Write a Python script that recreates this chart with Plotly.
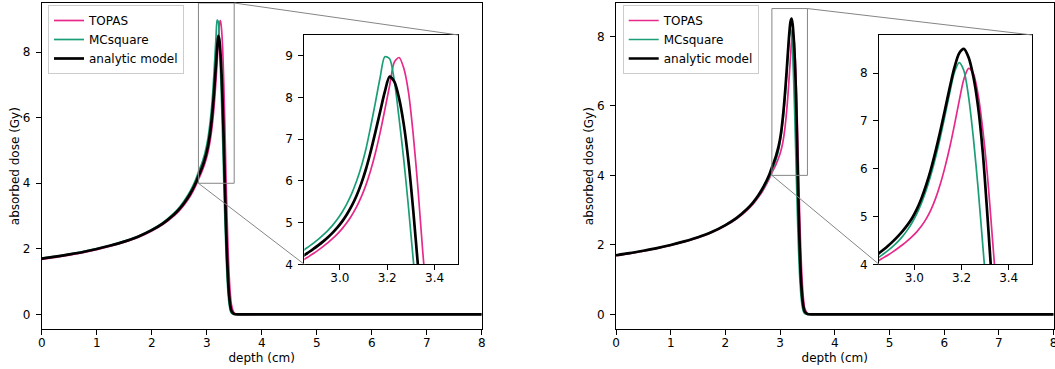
import plotly.graph_objects as go

# ---------------- data ----------------
depth = [0.0, 0.25, 0.5, 0.75, 1.0, 1.25, 1.5, 1.75, 2.0, 2.2, 2.4, 2.5, 2.6, 2.7, 2.8,
         2.85, 2.87, 2.89, 2.91, 2.93, 2.95, 2.97, 2.99, 3.01, 3.03, 3.05, 3.07, 3.09,
         3.11, 3.13, 3.15, 3.17, 3.19, 3.21, 3.23, 3.25, 3.27, 3.29, 3.31, 3.33, 3.35,
         3.37, 3.39, 3.41, 3.43, 3.45,
         3.5, 3.6, 4.0, 5.0, 6.0, 7.0, 8.0]

# left panel
topas_left = [1.68, 1.74, 1.81, 1.885, 1.975, 2.08, 2.20, 2.345, 2.545, 2.74, 3.00, 3.16, 3.36, 3.60, 3.92,
              4.12, 4.19, 4.265, 4.345, 4.43, 4.52, 4.62, 4.73, 4.855, 5.00, 5.17, 5.37, 5.61,
              5.90, 6.25, 6.67, 7.16, 7.71, 8.28, 8.85, 8.96, 8.70, 8.12, 7.10, 5.80, 4.30,
              3.00, 1.95, 1.15, 0.62, 0.30,
              0.04, 0.0, 0.0, 0.0, 0.0, 0.0, 0.0]
mcsquare_left = [1.71, 1.77, 1.84, 1.915, 2.005, 2.11, 2.235, 2.385, 2.59, 2.80, 3.08, 3.26, 3.49, 3.76, 4.11,
                 4.35, 4.43, 4.515, 4.605, 4.705, 4.815, 4.94, 5.085, 5.255, 5.455, 5.695, 5.985, 6.335,
                 6.76, 7.30, 7.88, 8.48, 8.98, 8.93, 8.40, 7.50, 6.50, 5.35, 4.10, 2.95, 1.95,
                 1.15, 0.60, 0.28, 0.11, 0.04,
                 0.01, 0.0, 0.0, 0.0, 0.0, 0.0, 0.0]
analytic_left = [1.70, 1.76, 1.83, 1.905, 1.995, 2.10, 2.22, 2.37, 2.57, 2.77, 3.04, 3.21, 3.42, 3.68, 4.01,
                 4.22, 4.295, 4.375, 4.46, 4.55, 4.65, 4.76, 4.885, 5.03, 5.20, 5.40, 5.64, 5.93,
                 6.28, 6.70, 7.17, 7.66, 8.14, 8.50, 8.38, 7.98, 7.35, 6.45, 5.28, 3.95, 2.75,
                 1.75, 1.02, 0.55, 0.26, 0.11,
                 0.01, 0.0, 0.0, 0.0, 0.0, 0.0, 0.0]

# right panel
topas_right = [1.69, 1.75, 1.82, 1.895, 1.985, 2.09, 2.205, 2.355, 2.55, 2.745, 3.00, 3.16, 3.36, 3.60, 3.90,
               4.08, 4.14, 4.20, 4.265, 4.335, 4.41, 4.49, 4.58, 4.68, 4.80, 4.95, 5.14, 5.38,
               5.68, 6.04, 6.45, 6.92, 7.42, 7.88, 8.10, 7.99, 7.56, 6.82, 5.85, 4.60, 3.35,
               2.25, 1.40, 0.80, 0.40, 0.18,
               0.02, 0.0, 0.0, 0.0, 0.0, 0.0, 0.0]
mcsquare_right = [1.70, 1.76, 1.83, 1.905, 1.995, 2.10, 2.22, 2.37, 2.565, 2.76, 3.025, 3.19, 3.39, 3.64, 3.95,
                  4.15, 4.22, 4.295, 4.38, 4.475, 4.585, 4.715, 4.87, 5.055, 5.28, 5.55, 5.87, 6.24,
                  6.66, 7.12, 7.59, 8.02, 8.22, 8.05, 7.50, 6.65, 5.60, 4.40, 3.22, 2.18, 1.36,
                  0.78, 0.40, 0.18, 0.07, 0.025,
                  0.0, 0.0, 0.0, 0.0, 0.0, 0.0, 0.0]
analytic_right = [1.70, 1.76, 1.83, 1.905, 1.995, 2.10, 2.22, 2.37, 2.57, 2.77, 3.04, 3.21, 3.42, 3.68, 4.01,
                  4.23, 4.31, 4.395, 4.485, 4.585, 4.695, 4.82, 4.965, 5.15, 5.38, 5.66, 5.99, 6.37,
                  6.79, 7.24, 7.70, 8.12, 8.42, 8.51, 8.33, 7.93, 7.30, 6.35, 5.00, 3.55, 2.35,
                  1.42, 0.80, 0.41, 0.19, 0.08,
                  0.01, 0.0, 0.0, 0.0, 0.0, 0.0, 0.0]

series_names = ["TOPAS", "MCsquare", "analytic model"]
series_colors = ["#e7298a", "#1b9e77", "black"]
series_widths = [1.7, 1.7, 2.7]

x_ticks_main = [0, 1, 2, 3, 4, 5, 6, 7, 8]
zoom_x = [2.85, 3.5]
zoom_y_left = [4.0, 9.5]
zoom_y_right = [4.0, 8.8]

# ---------------- layout geometry ----------------
W, H = 1055, 369
main_y_dom = [1 - 329.3 / H, 1 - 3 / H]
main_l_x_dom = [41.7 / W, 481.7 / W]
main_r_x_dom = [616.0 / W, 1053.6 / W]
ins_y_dom = [1 - 264.3 / H, 1 - 35 / H]
ins_l_x_dom = [304.3 / W, 458.3 / W]
ins_r_x_dom = [879.0 / W, 1032.3 / W]
main_l_y_rng = [-0.455, 9.5]
main_r_y_rng = [-0.43, 8.96]
main_x_rng = [0, 8]

FONT = "DejaVu Sans"

fig = go.Figure()

panels = [
    ([topas_left, mcsquare_left, analytic_left], "x", "y", "x2", "y2", "legend"),
    ([topas_right, mcsquare_right, analytic_right], "x3", "y3", "x4", "y4", "legend2"),
]
for data, xm, ym, xi, yi, leg in panels:
    for vals, name, col, w in zip(data, series_names, series_colors, series_widths):
        fig.add_trace(go.Scatter(x=depth, y=vals, mode="lines", name=name,
                                 line=dict(color=col, width=w, shape="spline", smoothing=0.8),
                                 xaxis=xm, yaxis=ym, legend=leg, showlegend=True))
    for vals, name, col, w in zip(data, series_names, series_colors, series_widths):
        fig.add_trace(go.Scatter(x=depth, y=vals, mode="lines", name=name,
                                 line=dict(color=col, width=w, shape="spline", smoothing=0.8),
                                 xaxis=xi, yaxis=yi, showlegend=False))

ax = dict(showline=True, linecolor="black", linewidth=1, mirror=True, ticks="outside",
          ticklen=5, tickwidth=1, tickcolor="black", showgrid=False, zeroline=False,
          automargin=False, tickfont=dict(family=FONT, size=12, color="black"))
xax = dict(ax, ticklabelstandoff=-3, ticklabeloverflow="allow")
yax = dict(ax, ticklabelstandoff=3)

title_font = dict(family=FONT, size=12, color="black")

leg_common = dict(xanchor="left", yanchor="top", bgcolor="rgba(255,255,255,0.8)",
                  bordercolor="#cccccc", borderwidth=1,
                  font=dict(family=FONT, size=12, color="black"), itemwidth=30, tracegroupgap=0)

fig.update_layout(
    width=W, height=H, margin=dict(l=0, r=0, t=0, b=0, autoexpand=False),
    paper_bgcolor="white", plot_bgcolor="white",
    font=dict(family=FONT, size=12, color="black"),
    xaxis=dict(xax, domain=main_l_x_dom, range=main_x_rng, tickvals=x_ticks_main, anchor="y",
               title=dict(text="depth (cm)", font=title_font, standoff=4)),
    yaxis=dict(yax, domain=main_y_dom, range=main_l_y_rng, dtick=2, tick0=0, anchor="x",
               title=dict(text="absorbed dose (Gy)", font=title_font, standoff=0)),
    xaxis2=dict(xax, domain=ins_l_x_dom, range=zoom_x, tick0=3.0, dtick=0.2, tickformat=".1f", anchor="y2"),
    yaxis2=dict(yax, domain=ins_y_dom, range=zoom_y_left, dtick=1, tick0=4, anchor="x2"),
    xaxis3=dict(xax, domain=main_r_x_dom, range=main_x_rng, tickvals=x_ticks_main, anchor="y3",
                title=dict(text="depth (cm)", font=title_font, standoff=4)),
    yaxis3=dict(yax, domain=main_y_dom, range=main_r_y_rng, dtick=2, tick0=0, anchor="x3",
                title=dict(text="absorbed dose (Gy)", font=title_font, standoff=0)),
    xaxis4=dict(xax, domain=ins_r_x_dom, range=zoom_x, tick0=3.0, dtick=0.2, tickformat=".1f", anchor="y4"),
    yaxis4=dict(yax, domain=ins_y_dom, range=zoom_y_right, dtick=1, tick0=4, anchor="x4"),
    legend=dict(leg_common, x=48 / W, y=1 - 5 / H),
    legend2=dict(leg_common, x=622.7 / W, y=1 - 5 / H),
)


def to_paper(xv, yv, xdom, ydom, xr, yr):
    px = xdom[0] + (xv - xr[0]) / (xr[1] - xr[0]) * (xdom[1] - xdom[0])
    py = ydom[0] + (yv - yr[0]) / (yr[1] - yr[0]) * (ydom[1] - ydom[0])
    return px, py


GRAY = "#858585"
for xm, ym, xdom, yrng, zy, idom in [
    ("x", "y", main_l_x_dom, main_l_y_rng, zoom_y_left, ins_l_x_dom),
    ("x3", "y3", main_r_x_dom, main_r_y_rng, zoom_y_right, ins_r_x_dom),
]:
    fig.add_shape(type="rect", xref=xm, yref=ym, x0=zoom_x[0], x1=zoom_x[1], y0=zy[0], y1=zy[1],
                  line=dict(color=GRAY, width=1))
    a = to_paper(zoom_x[0], zy[0], xdom, main_y_dom, main_x_rng, yrng)
    b = to_paper(zoom_x[1], zy[1], xdom, main_y_dom, main_x_rng, yrng)
    fig.add_shape(type="line", xref="paper", yref="paper", x0=a[0], y0=a[1],
                  x1=idom[0], y1=ins_y_dom[0], line=dict(color=GRAY, width=1))
    fig.add_shape(type="line", xref="paper", yref="paper", x0=b[0], y0=b[1],
                  x1=idom[1], y1=ins_y_dom[1], line=dict(color=GRAY, width=1))

fig.write_html("out.html")
